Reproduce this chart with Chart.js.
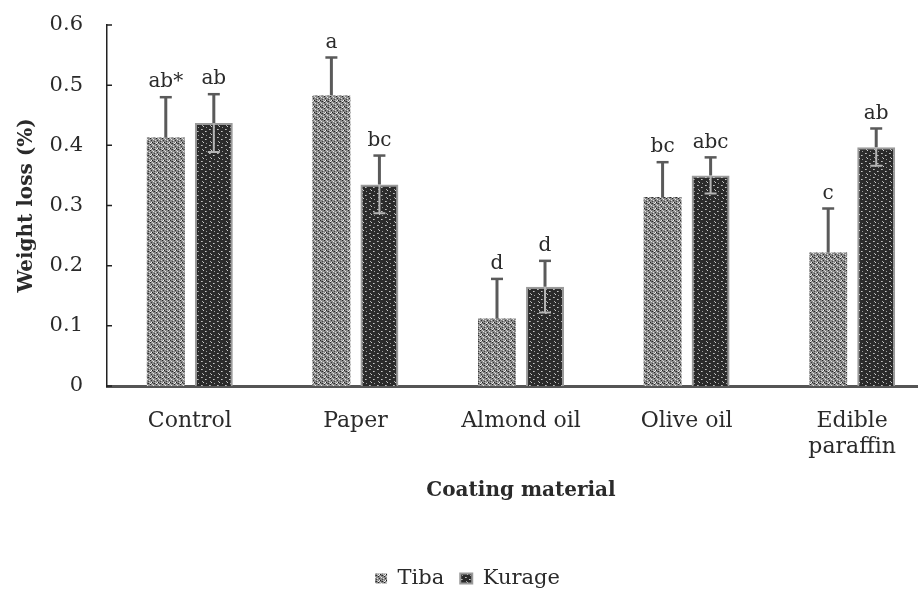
<!DOCTYPE html>
<html>
<head>
<meta charset="utf-8">
<script src="https://cdn.jsdelivr.net/npm/chart.js@4/dist/chart.umd.min.js"></script>
<style>
  html, body { margin: 0; padding: 0; background: #fff; overflow: hidden; width: 918px; height: 599px; }
  #wrap { width: 940px; height: 599px; }
</style>
</head>
<body>
<div id="wrap"><canvas id="c" width="940" height="599"></canvas></div>
<script>
// ---- data ----
const categories = ["Control", "Paper", "Almond oil", "Olive oil", ["Edible", "paraffin"]];
const seriesNames = ["Tiba", "Kurage"];
const tibaValues = [0.413, 0.483, 0.112, 0.314, 0.222];
const tibaErrors = [0.067, 0.063, 0.066, 0.058, 0.073];
const tibaLetters = ["ab*", "a", "d", "bc", "c"];
const kurageValues = [0.437, 0.335, 0.165, 0.350, 0.397];
const kurageErrors = [0.048, 0.048, 0.043, 0.030, 0.031];
const kurageLetters = ["ab", "bc", "d", "abc", "ab"];
const yTicks = [0, 0.1, 0.2, 0.3, 0.4, 0.5, 0.6];

// ---- texture patterns ----
function makePattern(size, base, dots) {
  const cv = document.createElement('canvas');
  cv.width = size; cv.height = size;
  const g = cv.getContext('2d');
  g.fillStyle = base; g.fillRect(0, 0, size, size);
  dots.forEach(d => { g.fillStyle = d[2]; g.fillRect(d[0], d[1], 1, 1); });
  return document.getElementById('c').getContext('2d').createPattern(cv, 'repeat');
}
const tibaPattern = makePattern(6, '#8a8a8a', [
  [0,0,'#222'],[3,1,'#e6e6e6'],[1,2,'#333'],[5,2,'#ddd'],[2,4,'#1e1e1e'],[4,3,'#444'],
  [0,5,'#eee'],[4,5,'#2a2a2a'],[2,0,'#cfcfcf'],[5,4,'#bbb'],[1,4,'#f0f0f0'],[3,5,'#555']
]);
const kuragePattern = makePattern(8, '#2b2b2b', [
  [1,1,'#bdbdbd'],[2,1,'#999'],[5,3,'#c8c8c8'],[6,3,'#888'],[2,5,'#aaa'],[3,6,'#cfcfcf'],[6,7,'#9a9a9a']
]);

const errBarPlugin = {
  id: 'errbars',
  afterDatasetsDraw(chart) {
    const ctx = chart.ctx;
    const ys = chart.scales.y;
    const errs = [tibaErrors, kurageErrors];
    const letters = [tibaLetters, kurageLetters];
    const vals = [tibaValues, kurageValues];
    ctx.save();
    [0, 1].forEach(di => {
      const meta = chart.getDatasetMeta(di);
      meta.data.forEach((bar, j) => {
        const v = vals[di][j], e = errs[di][j];
        const yTop = ys.getPixelForValue(v + e);
        const yBot = ys.getPixelForValue(v - e);
        const yv = ys.getPixelForValue(v);
        const x = bar.x;
        if (di === 1) {
          // lower whisker (visible inside the dark bar)
          ctx.strokeStyle = '#b5b5b5';
          ctx.lineWidth = 2;
          ctx.beginPath();
          ctx.moveTo(x, yv); ctx.lineTo(x, yBot);
          ctx.moveTo(x - 6, yBot); ctx.lineTo(x + 6, yBot);
          ctx.stroke();
        }
        // upper whisker
        ctx.strokeStyle = '#5a5a5a';
        ctx.lineWidth = 3;
        ctx.beginPath();
        ctx.moveTo(x, yv); ctx.lineTo(x, yTop);
        ctx.stroke();
        ctx.lineWidth = 2.5;
        ctx.beginPath();
        ctx.moveTo(x - 6, yTop); ctx.lineTo(x + 6, yTop);
        ctx.stroke();
        // letter
        ctx.fillStyle = '#2a2a2a';
        ctx.font = '20px "DejaVu Serif"';
        ctx.textAlign = 'center';
        ctx.textBaseline = 'bottom';
        ctx.fillText(letters[di][j], x, yTop - 5);
      });
    });
    // inward y ticks
    ctx.strokeStyle = '#222';
    ctx.lineWidth = 1.5;
    ctx.beginPath();
    yTicks.forEach(t => {
      const py = ys.getPixelForValue(t);
      ctx.moveTo(ys.right, py); ctx.lineTo(ys.right + 5, py);
    });
    ctx.stroke();
    ctx.restore();
  }
};

new Chart(document.getElementById('c'), {
  type: 'bar',
  data: {
    labels: categories,
    datasets: [
      { label: seriesNames[0], data: tibaValues, backgroundColor: tibaPattern, borderWidth: 0,
        barPercentage: 0.79, categoryPercentage: 0.58 },
      { label: seriesNames[1], data: kurageValues, backgroundColor: kuragePattern, borderColor: '#9a9a9a',
        borderWidth: 2, borderSkipped: 'bottom', barPercentage: 0.79, categoryPercentage: 0.58 }
    ]
  },
  options: {
    responsive: false,
    animation: false,
    layout: { padding: { top: 25, right: 5, left: 0, bottom: 0 } },
    plugins: {
      tooltip: { enabled: false },
      legend: {
        position: 'bottom',
        labels: {
          boxWidth: 12, boxHeight: 10, padding: 16, color: '#2a2a2a',
          font: { family: 'DejaVu Serif', size: 21 }
        }
      }
    },
    scales: {
      x: {
        grid: { display: false, drawTicks: false },
        border: { display: true, color: '#555', width: 3 },
        ticks: { color: '#2a2a2a', padding: 22, maxRotation: 0, autoSkip: false,
                 font: { family: 'DejaVu Serif', size: 22 } },
        title: { display: true, text: 'Coating material', color: '#2a2a2a',
                 font: { family: 'DejaVu Serif', size: 20, weight: 'bold' },
                 padding: { top: 0, bottom: 49 } },
        afterFit(s) { s.height = 166; s.paddingLeft = 0; s.paddingRight = 0; }
      },
      y: {
        min: 0, max: 0.6,
        afterBuildTicks(s) { s.ticks = yTicks.map(v => ({ value: v })); },
        grid: { display: false, drawTicks: false },
        border: { display: true, color: '#222', width: 1.5 },
        ticks: { color: '#2a2a2a', padding: 24,
                 font: { family: 'DejaVu Serif', size: 21 },
                 callback: v => (v === 0 ? '0' : v.toFixed(1)) },
        title: { display: true, text: 'Weight loss (%)', color: '#2a2a2a',
                 font: { family: 'DejaVu Serif', size: 20, weight: 'bold' },
                 padding: { top: 15, bottom: 0 } },
        afterFit(s) { s.width = 107; s.paddingTop = 0; s.paddingBottom = 0; }
      }
    }
  },
  plugins: [errBarPlugin]
});
</script>
</body>
</html>
